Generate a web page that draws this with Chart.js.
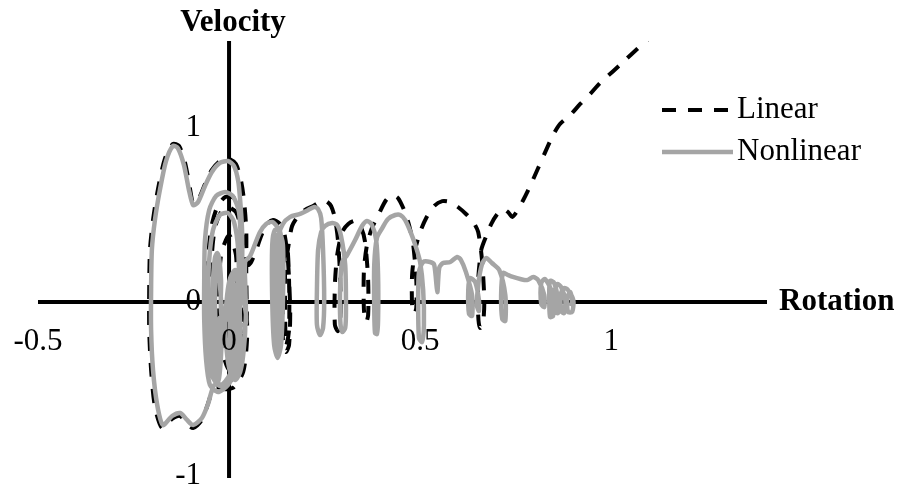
<!DOCTYPE html>
<html><head><meta charset="utf-8">
<script src="https://cdn.jsdelivr.net/npm/chart.js@4.4.1/dist/chart.umd.min.js"></script>
<style>html,body{margin:0;padding:0;background:#fff;}#wrap{width:901px;height:491px;}
.fp{position:absolute;left:-9999px;top:0;font-family:"Liberation Serif","Times New Roman",serif;}
.fpb{position:absolute;left:-9999px;top:0;font-family:"Liberation Serif","Times New Roman",serif;font-weight:bold;}</style>
</head><body><span class="fp">Linear 0.5</span><span class="fpb">Velocity</span><div id="wrap"><canvas id="c" width="901" height="491"></canvas></div>
<script>
// ---- data ----
const xTickValues = [-0.5, 0, 0.5, 1];
const yTickValues = [-1, 0, 1];
const xTitle = 'Rotation';
const yTitle = 'Velocity';
const seriesNames = ['Linear', 'Nonlinear'];

// Linear response: [rotation, velocity]
const linearPath = [
  [0,0],[0.024,0.011],[0.018,-0.247],[0,-0.391],[-0.021,-0.247],[-0.026,0.011],[-0.021,0.270],[0,0.385],[0.018,0.270],[0.024,0.011],
  [0.042,0.011],[0.039,-0.218],[0.029,-0.379],[0.003,-0.454],[-0.026,-0.448],[-0.042,-0.362],[-0.047,-0.161],[-0.047,0.069],[-0.045,0.270],[-0.037,0.425],[-0.021,0.517],[-0.003,0.546],[0.018,0.517],[0.031,0.425],[0.039,0.241],[0.040,0.011],
  [0.037,0.011],[0.031,-0.218],[0.016,-0.408],[-0.010,-0.489],[-0.039,-0.494],[-0.058,-0.603],[-0.073,-0.684],[-0.094,-0.724],[-0.113,-0.695],[-0.128,-0.655],[-0.149,-0.672],[-0.175,-0.724],[-0.194,-0.603],[-0.204,-0.391],[-0.209,-0.161],[-0.209,0.069],[-0.207,0.299],[-0.199,0.471],[-0.186,0.649],[-0.168,0.822],[-0.147,0.908],[-0.131,0.897],[-0.115,0.799],[-0.102,0.649],[-0.094,0.569],[-0.081,0.586],[-0.063,0.678],[-0.045,0.759],[-0.024,0.810],[0,0.822],[0.018,0.793],[0.031,0.701],[0.039,0.586],[0.045,0.414],[0.045,0.184],[0.046,0.011],
  [0.047,-0.218],[0.037,-0.402],[0.010,-0.494],[-0.024,-0.494],[-0.045,-0.402],[-0.055,-0.218],[-0.058,0.011],[-0.055,0.241],[-0.047,0.425],[-0.031,0.546],[-0.010,0.603],[0.013,0.598],[0.031,0.517],[0.042,0.385],[0.050,0.213],
  [0.058,0.230],[0.071,0.299],[0.084,0.379],[0.099,0.448],[0.115,0.471],[0.131,0.454],[0.144,0.402],
  [0.154,0.241],[0.160,-0.046],[0.157,-0.247],[0.149,-0.287],[0.141,-0.218],[0.141,0.069],[0.144,0.270],[0.152,0.328],[0.157,0.126],[0.157,-0.161],[0.149,-0.253],[0.147,-0.103],[0.147,0.184],[0.157,0.345],
  [0.165,0.437],[0.181,0.494],[0.199,0.529],[0.220,0.552],[0.238,0.575],[0.254,0.580],[0.267,0.552],[0.277,0.483],[0.285,0.356],
  [0.291,0.126],[0.291,-0.103],[0.285,-0.167],[0.277,-0.132],[0.277,0.098],[0.283,0.270],[0.296,0.402],
  [0.312,0.448],[0.330,0.466],[0.346,0.425],[0.356,0.345],
  [0.364,0.126],[0.364,-0.075],[0.359,-0.115],[0.353,-0.046],[0.353,0.184],[0.361,0.328],
  [0.374,0.425],[0.393,0.511],[0.411,0.586],[0.427,0.615],[0.442,0.598],[0.458,0.529],[0.471,0.443],[0.482,0.328],
  [0.490,0.126],[0.490,-0.034],[0.484,-0.069],[0.479,-0.017],[0.479,0.155],[0.487,0.299],
  [0.500,0.402],[0.516,0.483],[0.537,0.552],[0.558,0.580],[0.579,0.575],[0.599,0.546],[0.620,0.506],[0.639,0.460],[0.652,0.402],
  [0.662,0.241],[0.668,0.011],[0.665,-0.115],[0.657,-0.149],[0.652,-0.075],[0.652,0.126],[0.660,0.299],
  [0.673,0.379],[0.686,0.448],[0.702,0.506],[0.717,0.534],[0.730,0.517],[0.741,0.489],[0.754,0.523],[0.770,0.586],[0.788,0.667],[0.809,0.770],[0.830,0.874],[0.848,0.960],[0.866,1.023],[0.893,1.075],[0.919,1.138],[0.945,1.195],[0.971,1.259],[1.003,1.322],[1.037,1.391],[1.068,1.454],[1.097,1.511],[1.128,1.575]
];

// Nonlinear response: [rotation, velocity]
const nonlinearPath = [
  [0.024,0.011],[0.018,-0.247],[0.003,-0.437],[-0.024,-0.483],[-0.045,-0.420],[-0.052,-0.218],[-0.055,0.011],[-0.052,0.241],[-0.042,0.414],[-0.024,0.500],[-0.003,0.511],[0.013,0.460],[0.024,0.299],[0.027,0.011],
  [0.029,-0.218],[0.018,-0.391],[-0.003,-0.477],[-0.029,-0.517],[-0.050,-0.477],[-0.060,-0.333],[-0.065,-0.103],[-0.065,0.126],[-0.063,0.356],[-0.052,0.529],[-0.034,0.609],[-0.010,0.632],[0.010,0.609],[0.026,0.517],[0.031,0.299],[0.029,0.011],
  [0.024,-0.218],[0.008,-0.391],[-0.016,-0.471],[-0.039,-0.477],[-0.055,-0.586],[-0.071,-0.667],[-0.094,-0.707],[-0.110,-0.678],[-0.128,-0.638],[-0.149,-0.655],[-0.173,-0.707],[-0.188,-0.592],[-0.199,-0.391],[-0.204,-0.161],[-0.204,0.069],[-0.202,0.299],[-0.194,0.471],[-0.181,0.644],[-0.165,0.810],[-0.147,0.897],[-0.134,0.885],[-0.118,0.787],[-0.105,0.644],[-0.094,0.557],[-0.081,0.575],[-0.063,0.667],[-0.045,0.747],[-0.024,0.799],[-0.003,0.810],[0.013,0.782],[0.024,0.695],[0.029,0.586],[0.034,0.414],[0.034,0.184],[0.029,0.011],
  [-0.018,-0.092],[-0.021,0.126],[-0.026,0.253],[-0.031,0.282],[-0.037,0.253],[-0.042,0.126],[-0.045,-0.092],[-0.042,-0.305],[-0.037,-0.437],[-0.031,-0.466],[-0.026,-0.437],[-0.021,-0.305],[-0.018,-0.092],
  [-0.026,0.150],[-0.031,0.250],[-0.036,0.150],[-0.037,-0.092],[-0.036,-0.300],[-0.031,-0.440],[-0.026,-0.300],[-0.025,-0.092],
  [0.042,-0.132],[0.037,0.040],[0.029,0.138],[0.016,0.184],[0.003,0.138],[-0.005,0.040],[-0.010,-0.132],[-0.005,-0.305],[0.003,-0.402],[0.016,-0.448],[0.029,-0.402],[0.037,-0.305],[0.042,-0.132],
  [0.029,-0.132],[0.026,0.069],[0.016,0.155],[0.005,0.069],[0.003,-0.132],[0.005,-0.333],[0.016,-0.425],[0.026,-0.333],[0.029,-0.132],
  [0.021,-0.132],[0.016,0.098],[0.010,-0.132],[0.016,-0.391],[0.021,-0.132],
  [0.042,-0.132],[0.043,0.060],[0.042,0.230],[0.055,0.264],[0.068,0.333],[0.081,0.402],[0.097,0.448],[0.113,0.460],[0.128,0.425],
  [0.141,0.328],[0.141,0.011],[0.136,-0.247],[0.127,-0.322],[0.118,-0.247],[0.113,0.011],[0.113,0.328],[0.120,0.414],[0.134,0.402],
  [0.136,0.299],[0.136,-0.103],[0.127,-0.287],[0.119,-0.103],[0.119,0.299],[0.127,0.385],
  [0.131,0.011],[0.127,-0.247],[0.123,0.011],[0.127,0.356],[0.141,0.448],
  [0.160,0.489],[0.186,0.506],[0.207,0.529],[0.223,0.546],[0.233,0.534],[0.241,0.483],
  [0.246,0.299],[0.249,0.011],[0.246,-0.149],[0.238,-0.190],[0.230,-0.132],[0.230,0.069],[0.233,0.299],[0.241,0.402],[0.251,0.437],
  [0.270,0.454],[0.283,0.443],[0.293,0.379],
  [0.304,0.213],[0.306,-0.046],[0.304,-0.149],[0.296,-0.172],[0.291,-0.103],[0.291,0.098],[0.296,0.230],[0.309,0.270],
  [0.330,0.356],[0.348,0.437],[0.361,0.466],[0.374,0.443],[0.385,0.356],
  [0.390,0.155],[0.390,-0.103],[0.387,-0.184],[0.382,-0.178],[0.380,-0.046],[0.380,0.213],[0.387,0.368],
  [0.401,0.425],[0.416,0.477],[0.435,0.500],[0.448,0.500],[0.461,0.471],[0.476,0.397],[0.490,0.310],[0.500,0.230],
  [0.508,0.069],[0.510,-0.132],[0.505,-0.230],[0.497,-0.207],[0.495,0.011],[0.497,0.172],[0.508,0.230],
  [0.526,0.230],[0.537,0.213],[0.545,0.057],[0.550,0.195],[0.560,0.224],[0.579,0.230],[0.597,0.259],[0.607,0.241],[0.620,0.172],
  [0.636,0.040],[0.636,-0.080],[0.628,-0.069],[0.626,0.069],[0.631,0.138],[0.644,0.115],
  [0.654,0.011],[0.654,-0.052],[0.649,-0.023],[0.652,0.098],
  [0.662,0.218],[0.673,0.253],[0.688,0.224],[0.707,0.184],
  [0.723,0.040],[0.723,-0.109],[0.715,-0.098],[0.712,0.040],[0.717,0.167],
  [0.730,0.155],[0.743,0.144],[0.762,0.132],[0.780,0.126],[0.796,0.144],[0.809,0.126],
  [0.825,0.040],[0.825,-0.029],[0.817,-0.011],[0.817,0.109],[0.827,0.132],
  [0.848,0.040],[0.848,-0.080],[0.840,-0.086],[0.838,0.040],[0.840,0.121],[0.851,0.109],
  [0.861,0.011],[0.861,-0.063],[0.853,-0.057],[0.853,0.069],[0.859,0.103],[0.869,0.086],
  [0.880,0.011],[0.877,-0.063],[0.869,-0.052],[0.869,0.052],[0.877,0.080],[0.887,0.069],
  [0.901,0.011],[0.898,-0.057],[0.887,-0.057],[0.885,0.023],[0.893,0.057],[0.898,0.000],[0.893,-0.023]
];

// ---- styles ----
const FAMILY = '"Liberation Serif", "Times New Roman", "DejaVu Serif", serif';
const FS = 31;
const GRAY = '#a5a5a5';
const DASH = [14, 12];

const toXY = arr => arr.map(p => ({x: p[0], y: p[1]}));

const axesPlugin = {
  id: 'customAxes',
  beforeDatasetsDraw(chart) {
    const {ctx, chartArea: a, scales: {x, y}} = chart;
    const x0 = x.getPixelForValue(0), y0 = y.getPixelForValue(0);
    ctx.save();
    ctx.strokeStyle = '#000';
    ctx.lineWidth = 4;
    ctx.beginPath();
    ctx.moveTo(a.left, y0); ctx.lineTo(a.right + 3, y0);
    ctx.moveTo(x0, a.top); ctx.lineTo(x0, a.bottom + 2);
    ctx.stroke();
    ctx.restore();
  },
  afterDatasetsDraw(chart) {
    const {ctx, chartArea: a, scales: {x, y}} = chart;
    const x0 = x.getPixelForValue(0), y0 = y.getPixelForValue(0);
    ctx.save();
    ctx.fillStyle = '#000';
    ctx.font = FS + 'px ' + FAMILY;
    ctx.textBaseline = 'middle';
    ctx.textAlign = 'center';
    xTickValues.forEach(v => ctx.fillText(String(v), x.getPixelForValue(v), y0 + 40));
    ctx.textAlign = 'right';
    yTickValues.forEach(v => ctx.fillText(String(v), x0 - 28, y.getPixelForValue(v)));
    ctx.font = 'bold ' + FS + 'px ' + FAMILY;
    ctx.textAlign = 'center';
    ctx.fillText(yTitle, x0 + 4, a.top - 18);
    ctx.textAlign = 'left';
    ctx.fillText(xTitle, a.right + 15, y0);
    // legend
    const ds = chart.data.datasets;
    const lx1 = 662, lx2 = 733, ly = [110, 152];
    ds.forEach((d, i) => {
      ctx.save();
      ctx.strokeStyle = d.borderColor;
      ctx.lineWidth = d.borderWidth;
      ctx.setLineDash(d.borderDash || []);
      ctx.beginPath(); ctx.moveTo(lx1, ly[i]); ctx.lineTo(lx2, ly[i]); ctx.stroke();
      ctx.restore();
      ctx.font = FS + 'px ' + FAMILY;
      ctx.textAlign = 'left';
      ctx.textBaseline = 'middle';
      ctx.fillText(d.label, 737, ly[i]);
    });
    ctx.restore();
  }
};

function draw() {
  new Chart(document.getElementById('c'), {
    type: 'scatter',
    data: {
      datasets: [
        {label: seriesNames[0], data: toXY(linearPath), showLine: true, borderColor: '#000', borderWidth: 4, borderDash: DASH, pointRadius: 0, tension: 0.25, order: 2, fill: false},
        {label: seriesNames[1], data: toXY(nonlinearPath), showLine: true, borderColor: GRAY, borderWidth: 4.5, pointRadius: 0, tension: 0.25, order: 1, fill: false}
      ]
    },
    options: {
      responsive: false,
      animation: false,
      events: [],
      devicePixelRatio: 1,
      layout: {padding: {left: 38, right: 137, top: 41, bottom: 15}},
      plugins: {legend: {display: false}, tooltip: {enabled: false}, title: {display: false}},
      scales: {
        x: {type: 'linear', min: -0.5, max: 1.4, position: {y: 0}, grid: {display: false}, border: {display: false}, ticks: {display: false}},
        y: {type: 'linear', min: -1, max: 1.5, position: {x: 0}, grid: {display: false}, border: {display: false}, ticks: {display: false}}
      }
    },
    plugins: [axesPlugin]
  });
}
if (document.fonts && document.fonts.load) {
  Promise.all([
    document.fonts.load(FS + 'px "Liberation Serif"'),
    document.fonts.load('bold ' + FS + 'px "Liberation Serif"')
  ]).then(draw, draw);
} else { draw(); }
</script>
</body></html>
